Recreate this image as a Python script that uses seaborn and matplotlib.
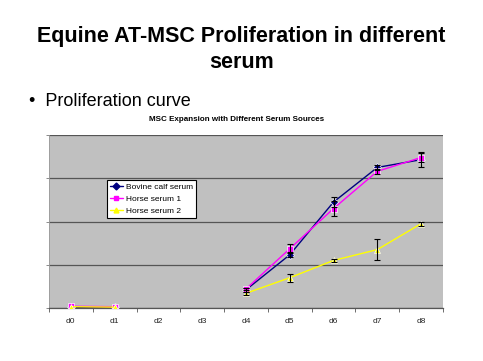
import numpy as np
import pandas as pd
import seaborn as sns
import matplotlib.pyplot as plt
from matplotlib.lines import Line2D

# données (unités arbitraires, grille = 1)
days = ["d0", "d1", "d2", "d3", "d4", "d5", "d6", "d7", "d8"]
series_names = ["Bovine calf serum", "Horse serum 1", "Horse serum 2"]
bovine = [0.03, 0.03, np.nan, np.nan, 0.42, 1.23, 2.45, 3.25, 3.43]
horse1 = [0.04, 0.03, np.nan, np.nan, 0.44, 1.37, 2.30, 3.16, 3.48]
horse2 = [0.03, 0.02, np.nan, np.nan, 0.34, 0.70, 1.10, 1.35, 1.95]
bovine_err = [0, 0, np.nan, np.nan, 0.04, 0.06, 0.12, 0.06, 0.17]
horse1_err = [0, 0, np.nan, np.nan, 0.03, 0.10, 0.18, 0.05, 0.10]
horse2_err = [0, 0, np.nan, np.nan, 0.03, 0.09, 0.04, 0.25, 0.05]

colors = ["#000080", "#FF00FF", "#FFFF00"]
markers = ["D", "s", "^"]

rows = []
for name, vals, errs in zip(series_names, [bovine, horse1, horse2],
                            [bovine_err, horse1_err, horse2_err]):
    for i, (v, e) in enumerate(zip(vals, errs)):
        if np.isnan(v):
            continue
        rows.append({"x": i, "value": v, "err": e, "serum": name,
                     "segment": 0 if i < 2 else 1})
df = pd.DataFrame(rows)

sns.set_style("white")
plt.rcParams["font.family"] = ["Liberation Sans", "DejaVu Sans"]
plt.rcParams["text.color"] = "black"
plt.rcParams["xtick.color"] = "black"

fig = plt.figure(figsize=(4.83, 3.61), dpi=100)
ax = fig.add_axes([0.1014, 0.1468, 0.8157, 0.4792])
ax.set_facecolor("#C0C0C0")

sns.lineplot(data=df, x="x", y="value", hue="serum", style="serum",
             units="segment", estimator=None, hue_order=series_names,
             style_order=series_names, palette=colors,
             markers=dict(zip(series_names, markers)),
             dashes=False, markersize=4.5, markeredgewidth=0.5,
             linewidth=1.0, legend=False, ax=ax, zorder=3)

# barres d'erreur
for name in series_names:
    sub = df[(df["serum"] == name) & (df["err"] > 0)]
    ax.errorbar(sub["x"], sub["value"], yerr=sub["err"], fmt="none",
                ecolor="black", elinewidth=0.8, capsize=2.2, capthick=0.8,
                zorder=4)

ax.set_xlim(-0.5, 8.5)
ax.set_ylim(0, 4)
ax.set_yticks([0, 1, 2, 3, 4])
ax.set_yticklabels([])
ax.yaxis.grid(True, color="#555555", linewidth=0.9)
ax.set_axisbelow(True)
ax.set_xticks(range(len(days)))
ax.set_xticklabels(days, fontsize=6)
ax.set_xticks(np.arange(-0.5, 9, 1), minor=True)
ax.tick_params(axis="x", which="major", length=0, pad=7, labelcolor="#222222")
ax.tick_params(axis="x", which="minor", length=3, color="#555555", width=0.6,
               direction="out", bottom=True)
ax.tick_params(axis="y", length=2, color="#777777", width=0.6, left=True,
               direction="out")
ax.set_xlabel("")
ax.set_ylabel("")
for side in ["top", "right"]:
    ax.spines[side].set_visible(False)
ax.spines["left"].set_color("#999999")
ax.spines["left"].set_linewidth(0.6)
ax.spines["bottom"].set_color("#555555")
ax.spines["bottom"].set_linewidth(0.9)

handles = [Line2D([0], [0], color=c, marker=m, markersize=3.5, linewidth=1.0)
           for c, m in zip(colors, markers)]
leg = ax.legend(handles, series_names, loc="upper left",
                bbox_to_anchor=(0.147, 0.74), fontsize=6, frameon=True,
                fancybox=False, edgecolor="black", framealpha=1,
                handlelength=1.6, borderpad=0.35, labelspacing=0.5,
                handletextpad=0.3, borderaxespad=0)
leg.get_frame().set_linewidth(0.8)

fig.text(0.489, 0.67, "MSC Expansion with Different Serum Sources",
         ha="center", va="center", fontsize=5.8, fontweight="bold")

fig.text(0.5, 0.9, "Equine AT-MSC Proliferation in different",
         ha="center", va="center", fontsize=15.5, fontweight="bold")
fig.text(0.5, 0.828, "serum", ha="center", va="center", fontsize=15.5,
         fontweight="bold")
fig.text(0.06, 0.72, "\u2022  Proliferation curve", ha="left", va="center",
         fontsize=13)

fig.savefig("out.png", dpi=100)
